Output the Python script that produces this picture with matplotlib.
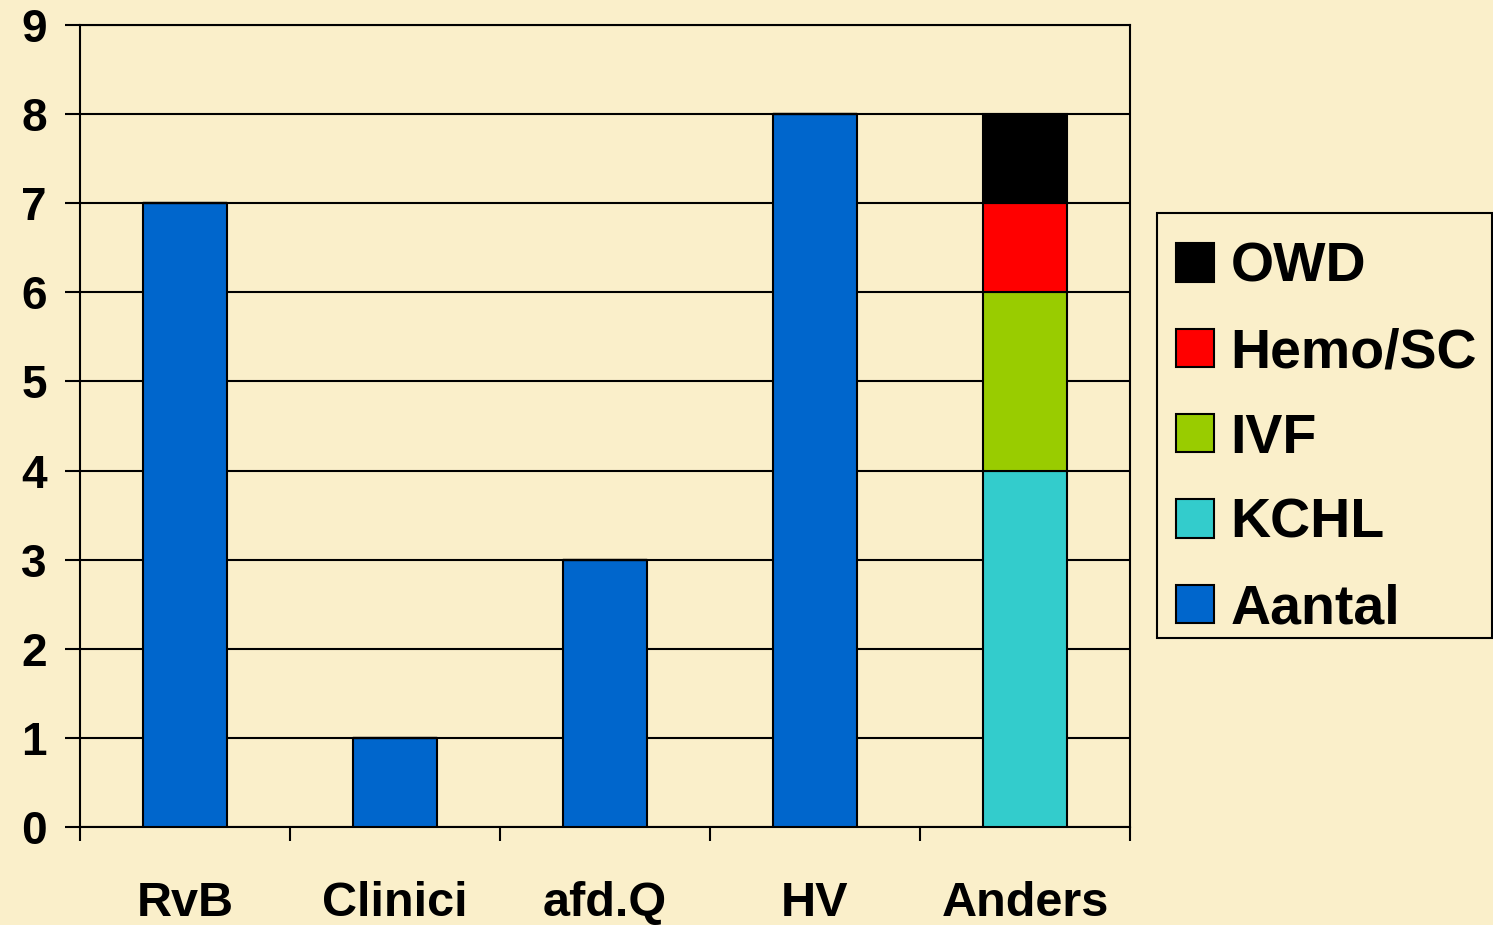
import numpy as np
import matplotlib.pyplot as plt
from matplotlib.patches import Rectangle
from matplotlib.ticker import FixedLocator

categories = ['RvB', 'Clinici', 'afd.Q', 'HV', 'Anders']
aantal = [7, 1, 3, 8, 0]
kchl = [0, 0, 0, 0, 4]
ivf = [0, 0, 0, 0, 2]
hemo = [0, 0, 0, 0, 1]
owd = [0, 0, 0, 0, 1]

series = [('Aantal', aantal, '#0066CC'),
          ('KCHL', kchl, '#33CCCC'),
          ('IVF', ivf, '#99CC00'),
          ('Hemo/SC', hemo, '#FF0000'),
          ('OWD', owd, '#000000')]

bg = '#FAEFCA'
plt.rcParams['font.family'] = ['Liberation Sans', 'DejaVu Sans']
plt.rcParams['font.weight'] = 'bold'

W, H = 1493, 925
fig = plt.figure(figsize=(W / 100, H / 100), dpi=100, facecolor=bg)
ax = fig.add_axes([80 / W, 98 / H, 1050 / W, 802 / H])
ax.set_facecolor(bg)

x = np.arange(len(categories))
bottom = np.zeros(len(categories))
handles = []
for name, vals, col in series:
    vals = np.array(vals, dtype=float)
    b = ax.bar(x, vals, 0.4, bottom=bottom, color=col, edgecolor='black',
               linewidth=1.5, label=name, zorder=3)
    handles.append(b)
    bottom += vals

ax.set_xlim(-0.5, 4.5)
ax.set_ylim(0, 9)
ax.set_yticks(range(10))
ax.yaxis.grid(True, color='black', linewidth=1.5, zorder=0)
ax.set_axisbelow(True)

ax.xaxis.set_major_locator(FixedLocator(np.arange(-0.5, 5, 1)))
ax.xaxis.set_minor_locator(FixedLocator(x))
ax.set_xticklabels([], minor=False)
ax.set_xticklabels(categories, minor=True, fontsize=35, fontweight='bold')
ax.tick_params(axis='x', which='major', length=10, width=1.5, direction='out')
ax.tick_params(axis='x', which='minor', length=0, pad=39)
ax.tick_params(axis='y', length=11, width=1.5, direction='out', pad=13, labelsize=33)
for lab in ax.get_yticklabels():
    lab.set_fontweight('bold')

for s in ax.spines.values():
    s.set_linewidth(1.5)

# legend without its own frame; box drawn separately
leg_h = handles[::-1]
leg = fig.legend(leg_h, [h.get_label() for h in leg_h],
                 loc='upper left', bbox_to_anchor=(1176 / W, 1 - 242 / H),
                 fontsize=40, frameon=False, handlelength=0.68, handleheight=0.68,
                 handletextpad=0.3, labelspacing=0.6, borderpad=0,
                 borderaxespad=0)
for t in leg.get_texts():
    t.set_fontweight('bold')

fig.patches.append(Rectangle((1157 / W, (H - 638) / H), (W - 1 - 1157) / W, 425 / H,
                             transform=fig.transFigure, fill=False,
                             edgecolor='black', linewidth=1.5))

fig.savefig('out.png', dpi=100, facecolor=bg)
